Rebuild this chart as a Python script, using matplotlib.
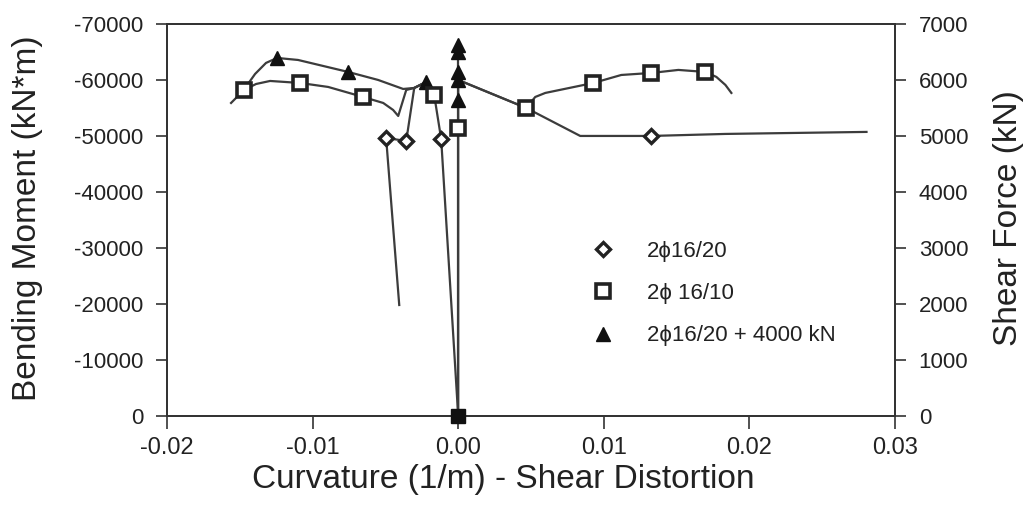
import matplotlib
matplotlib.use("Agg")
import matplotlib.pyplot as plt
from matplotlib.lines import Line2D

plt.rcParams['font.family'] = ['Liberation Sans', 'DejaVu Sans']
plt.rcParams['axes.unicode_minus'] = False

# ---------------- data ----------------
# Bending moment (kN*m) vs curvature (1/m)  -- left axis
tri_m_x = [-0.01560, -0.01478, -0.01395, -0.01320, -0.01244, -0.01100, -0.00756, -0.00550, -0.00378, -0.00302, -0.00220]
tri_m_y = [-55900, -58050, -61080, -63050, -63940, -63580, -61440, -60010, -58400, -58580, -59650]
tri_m_mark = [4, 6, 10]

sq_m_x = [-0.01471, -0.01388, -0.01292, -0.01086, -0.00893, -0.00653, -0.00515, -0.00447, -0.00412, -0.00357, -0.00302, -0.00220, -0.00165]
sq_m_y = [-58220, -59290, -59830, -59470, -58760, -56970, -55900, -54650, -53580, -58220, -58580, -59650, -57330]
sq_m_mark = [0, 3, 5, 12]

dia_m_x = [-0.00405, -0.00495, -0.00357, -0.00302, -0.00220, -0.00165, -0.00117, 0.0]
dia_m_y = [-19820, -49650, -49110, -58580, -59650, -57330, -49470, 0]
dia_m_mark = [1, 2, 6]

# Shear force (kN) vs shear distortion -- right axis
tri_v_x = [0.0, 0.0, 0.0, 0.0, 0.0, 0.0]
tri_v_y = [0, 5644, 6001, 6144, 6501, 6626]
tri_v_mark = [1, 2, 3, 4, 5]

sq_v_x = [0.0, 0.0, 0.0, 0.00467, 0.00529, 0.00598, 0.00928, 0.01120, 0.01326, 0.01512, 0.01698, 0.01773, 0.01835, 0.01876]
sq_v_y = [0, 5144, 6001, 5501, 5697, 5769, 5947, 6090, 6126, 6180, 6144, 6055, 5912, 5769]
sq_v_mark = [1, 3, 6, 8, 10]
sq_v_filled = [0]

dia_v_x = [0.0, 0.00467, 0.00838, 0.01326, 0.01835, 0.02804]
dia_v_y = [6001, 5501, 5001, 5001, 5037, 5073]
dia_v_mark = [3]

labels = ['2\u03d516/20', '2\u03d5 16/10', '2\u03d516/20 + 4000 kN']
x_ticks = [-0.02, -0.01, 0.00, 0.01, 0.02, 0.03]
m_ticks = [0, -10000, -20000, -30000, -40000, -50000, -60000, -70000]
v_ticks = [0, 1000, 2000, 3000, 4000, 5000, 6000, 7000]

# ---------------- style ----------------
LC = '#3c3c3c'
LW = 1.6
tri_style = dict(marker='^', ms=10, mfc='#111111', mec='#111111', mew=1.0)
sq_style = dict(marker='s', ms=10, mfc='white', mec='#222222', mew=2.6)
dia_style = dict(marker='D', ms=7.5, mfc='white', mec='#222222', mew=2.4)

fig = plt.figure(figsize=(10.34, 5.13), dpi=100)
ax = fig.add_axes([0.1615, 0.1891, 0.7041, 0.7641])
ax2 = ax.twinx()

def draw(a, xs, ys, marks, style):
    a.plot(xs, ys, color=LC, lw=LW, zorder=2)
    a.plot([xs[i] for i in marks], [ys[i] for i in marks], ls='none', zorder=3, **style)

draw(ax, tri_m_x, tri_m_y, tri_m_mark, tri_style)
draw(ax, sq_m_x, sq_m_y, sq_m_mark, sq_style)
draw(ax, dia_m_x, dia_m_y, dia_m_mark, dia_style)

draw(ax2, dia_v_x, dia_v_y, dia_v_mark, dia_style)
draw(ax2, sq_v_x, sq_v_y, sq_v_mark, sq_style)
draw(ax2, tri_v_x, tri_v_y, tri_v_mark, tri_style)
ax2.plot([sq_v_x[i] for i in sq_v_filled], [sq_v_y[i] for i in sq_v_filled], ls='none',
         marker='s', ms=10, mfc='#111111', mec='#111111', zorder=4, clip_on=False)

ax.set_xlim(-0.02, 0.03)
ax.set_ylim(0, -70000)
ax2.set_ylim(0, 7000)
ax.set_xticks(x_ticks)
ax.set_xticklabels(['%.2f' % v for v in x_ticks])
ax.set_yticks(m_ticks)
ax.set_yticklabels(['%d' % v for v in m_ticks])
ax2.set_yticks(v_ticks)
ax2.set_yticklabels(['%d' % v for v in v_ticks])

for a in (ax, ax2):
    for s in a.spines.values():
        s.set_color('#333333')
        s.set_linewidth(1.3)
ax.tick_params(axis='y', direction='out', length=8, width=1.2, color='#333333', labelsize=16, pad=9, labelcolor='#222222')
ax.tick_params(axis='x', direction='out', length=9, width=1.2, color='#333333', labelsize=17, pad=6, labelcolor='#222222')
ax2.tick_params(axis='y', direction='out', length=8, width=1.2, color='#333333', labelsize=16, pad=9, labelcolor='#222222')

ax.set_xlabel('Curvature (1/m) - Shear Distortion', fontsize=24, color='#222222')
ax.set_ylabel('Bending Moment (kN*m)', fontsize=24, color='#222222')
ax2.set_ylabel('Shear Force (kN)', fontsize=24, color='#222222')
ax.xaxis.set_label_coords(0.4615, -0.122)
ax.yaxis.set_label_coords(-0.170, 0.505)
ax2.yaxis.set_label_coords(1.135, 0.505)

handles = [
    Line2D([], [], ls='none', **dia_style),
    Line2D([], [], ls='none', **sq_style),
    Line2D([], [], ls='none', **tri_style),
]
leg = fig.legend(handles, labels, loc='upper left', bbox_to_anchor=(0.572, 0.530),
                 frameon=False, fontsize=16, handlelength=1.0, handletextpad=1.5,
                 labelspacing=0.95, borderpad=0, borderaxespad=0)
for t in leg.get_texts():
    t.set_color('#222222')

fig.savefig('out.png', dpi=100)
